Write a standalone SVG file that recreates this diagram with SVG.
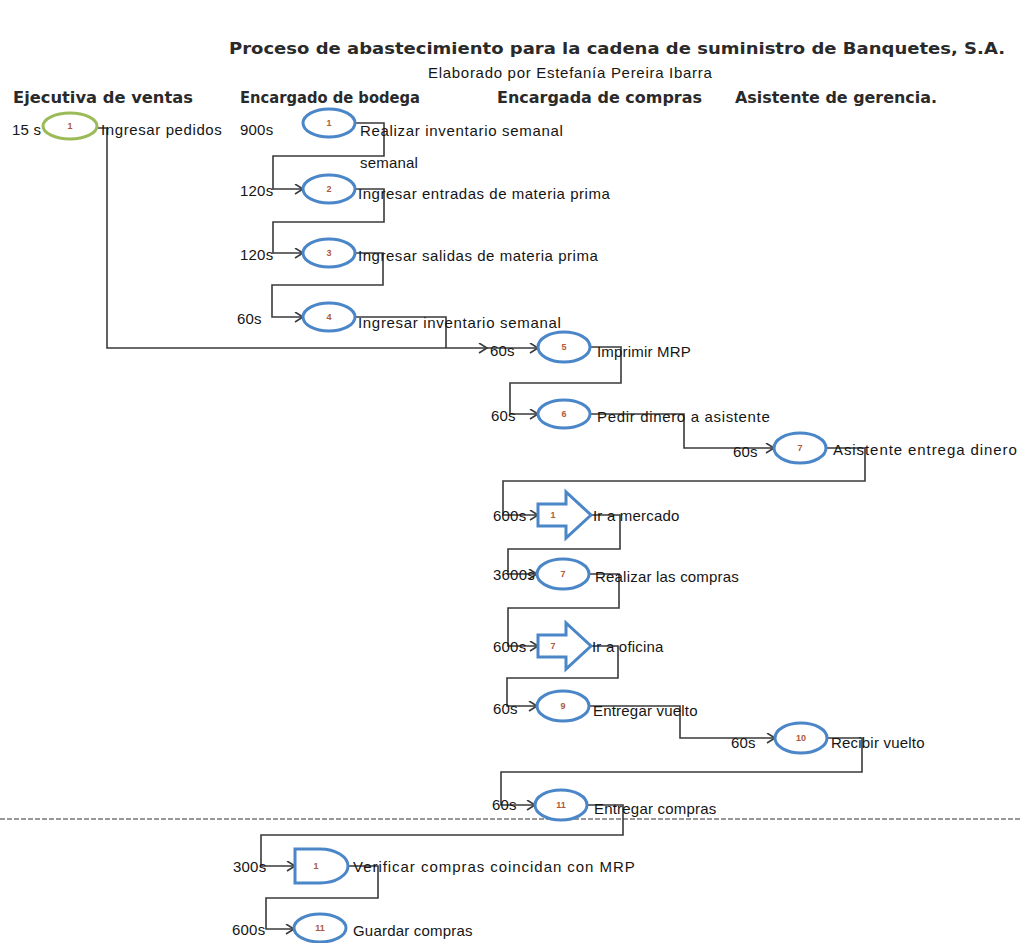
<svg xmlns="http://www.w3.org/2000/svg" width="1022" height="943" viewBox="0 0 1022 943">
<style>
.t{font-family:"Liberation Sans",Arial,sans-serif;font-size:15px;letter-spacing:0.2px;fill:#151515}
.h{font-family:"DejaVu Sans",Verdana,sans-serif;font-weight:bold;font-size:15px;fill:#2a2a2a}
.n{font-family:"Liberation Sans",Arial,sans-serif;font-size:9px;font-weight:bold;fill:#b0583a;text-anchor:middle}
.e{fill:#fff;stroke:#4a86c8;stroke-width:3}
.c{fill:none;stroke:#3a3a3a;stroke-width:1.6}
</style>
<defs>
<marker id="ah" markerWidth="12" markerHeight="12" refX="9" refY="5" orient="auto" markerUnits="userSpaceOnUse"><path d="M1,0 L9,5 L1,10" fill="none" stroke="#3a3a3a" stroke-width="1.6"/></marker>
</defs>
<rect width="1022" height="943" fill="#fff"/>
<g id="titles">
<text class="h" x="229" y="54" textLength="776" lengthAdjust="spacingAndGlyphs">Proceso de abastecimiento para la cadena de suministro de Banquetes, S.A.</text>
<text class="t" x="428" y="78" font-size="14" textLength="284" lengthAdjust="spacing">Elaborado por Estefanía Pereira Ibarra</text>
</g>
<g id="lanes">
<text class="h" x="13" y="103" textLength="180" lengthAdjust="spacingAndGlyphs">Ejecutiva de ventas</text>
<text class="h" x="240" y="103" textLength="180" lengthAdjust="spacingAndGlyphs">Encargado de bodega</text>
<text class="h" x="497" y="103" textLength="205" lengthAdjust="spacingAndGlyphs">Encargada de compras</text>
<text class="h" x="735" y="103" textLength="202" lengthAdjust="spacingAndGlyphs">Asistente de gerencia.</text>
</g>
<g id="divider">
<line x1="0" y1="819" x2="1022" y2="819" stroke="#333" stroke-width="1.2" stroke-dasharray="5,2"/>
</g>
<g id="connectors">
<path class="c" d="M97,128 H107 V348 H487" marker-end="url(#ah)"/>
<path class="c" d="M487,348 H538" marker-end="url(#ah)"/>
<path class="c" d="M355,123 H384 V156 H273 V189 H303" marker-end="url(#ah)"/>
<path class="c" d="M355,189 H384 V222 H273 V253 H303" marker-end="url(#ah)"/>
<path class="c" d="M355,253 H383 V285 H272 V317 H303" marker-end="url(#ah)"/>
<path class="c" d="M355,317 H446 V348"/>
<path class="c" d="M590,347 H621 V383 H510 V414 H538" marker-end="url(#ah)"/>
<path class="c" d="M590,414 H684 V448 H774" marker-end="url(#ah)"/>
<path class="c" d="M826,448 H865 V481 H503 V515 H538" marker-end="url(#ah)"/>
<path class="c" d="M591,515 H620 V549 H508 V574 H537" marker-end="url(#ah)"/>
<path class="c" d="M589,574 H619 V608 H508 V646 H538" marker-end="url(#ah)"/>
<path class="c" d="M591,646 H618 V678 H507 V706 H537" marker-end="url(#ah)"/>
<path class="c" d="M589,706 H680 V738 H775" marker-end="url(#ah)"/>
<path class="c" d="M827,738 H862 V772 H501 V805 H535" marker-end="url(#ah)"/>
<path class="c" d="M587,805 H623 V835 H261 V866 H295" marker-end="url(#ah)"/>
<path class="c" d="M348,866 H378 V898 H266 V929 H294" marker-end="url(#ah)"/>
</g>
<g id="n0">
<ellipse cx="70" cy="126" rx="27" ry="13" fill="#fff" stroke="#9bbb59" stroke-width="3"/>
<text class="n" x="70" y="129">1</text>
<text class="t" x="12" y="135" font-size="14.5" letter-spacing="0">15 s</text>
<text class="t" x="101" y="135" textLength="121" lengthAdjust="spacing">Ingresar pedidos</text>
</g>
<g id="n1">
<ellipse class="e" cx="329" cy="123" rx="26" ry="14"/>
<text class="n" x="329" y="126">1</text>
<text class="t" x="240" y="135">900s</text>
<text class="t" x="360" y="136" textLength="203" lengthAdjust="spacing">Realizar inventario semanal</text>
<text class="t" x="360" y="168">semanal</text>
</g>
<g id="n2">
<ellipse class="e" cx="329" cy="189" rx="26" ry="14"/>
<text class="n" x="329" y="192">2</text>
<text class="t" x="240" y="196">120s</text>
<text class="t" x="358" y="199" textLength="252" lengthAdjust="spacing">Ingresar entradas de materia prima</text>
</g>
<g id="n3">
<ellipse class="e" cx="329" cy="253" rx="26" ry="14"/>
<text class="n" x="329" y="256">3</text>
<text class="t" x="240" y="260">120s</text>
<text class="t" x="358" y="261" textLength="240" lengthAdjust="spacing">Ingresar salidas de materia prima</text>
</g>
<g id="n4">
<ellipse class="e" cx="329" cy="317" rx="26" ry="14"/>
<text class="n" x="329" y="320">4</text>
<text class="t" x="237" y="324">60s</text>
<text class="t" x="358" y="328" textLength="203" lengthAdjust="spacing">Ingresar inventario semanal</text>
</g>
<g id="n5">
<ellipse class="e" cx="564" cy="347" rx="26" ry="15"/>
<text class="n" x="564" y="350">5</text>
<text class="t" x="490" y="356">60s</text>
<text class="t" x="597" y="357">Imprimir MRP</text>
</g>
<g id="n6">
<ellipse class="e" cx="564" cy="414" rx="26" ry="14"/>
<text class="n" x="564" y="417">6</text>
<text class="t" x="491" y="421">60s</text>
<text class="t" x="597" y="422" textLength="173" lengthAdjust="spacing">Pedir dinero a asistente</text>
</g>
<g id="n7">
<ellipse class="e" cx="800" cy="448" rx="26" ry="15"/>
<text class="n" x="800" y="451">7</text>
<text class="t" x="733" y="457">60s</text>
<text class="t" x="833" y="455" textLength="184" lengthAdjust="spacing">Asistente entrega dinero</text>
</g>
<g id="n8">
<path class="e" d="M538,504 H566 V492 L591,515 L566,538 V526 H538 Z"/>
<text class="n" x="553" y="518">1</text>
<text class="t" x="493" y="521">600s</text>
<text class="t" x="593" y="521">Ir a mercado</text>
</g>
<g id="n9">
<ellipse class="e" cx="563" cy="574" rx="26" ry="15"/>
<text class="n" x="563" y="577">7</text>
<text class="t" x="493" y="580">3600s</text>
<text class="t" x="595" y="582">Realizar las compras</text>
</g>
<g id="n10">
<path class="e" d="M538,635 H566 V623 L591,646 L566,669 V657 H538 Z"/>
<text class="n" x="553" y="649">7</text>
<text class="t" x="493" y="652">600s</text>
<text class="t" x="592" y="652">Ir a oficina</text>
</g>
<g id="n11">
<ellipse class="e" cx="563" cy="706" rx="26" ry="15"/>
<text class="n" x="563" y="709">9</text>
<text class="t" x="493" y="714">60s</text>
<text class="t" x="593" y="716">Entregar vuelto</text>
</g>
<g id="n12">
<ellipse class="e" cx="801" cy="738" rx="26" ry="15"/>
<text class="n" x="801" y="741" font-size="7">10</text>
<text class="t" x="731" y="748">60s</text>
<text class="t" x="831" y="748">Recibir vuelto</text>
</g>
<g id="n13">
<ellipse class="e" cx="561" cy="805" rx="26" ry="15"/>
<text class="n" x="561" y="808" font-size="7">11</text>
<text class="t" x="492" y="810">60s</text>
<text class="t" x="594" y="814">Entregar compras</text>
</g>
<g id="n14">
<path class="e" d="M295,849 H320 A28,17 0 0 1 320,883 H295 Z"/>
<text class="n" x="316" y="869">1</text>
<text class="t" x="233" y="872">300s</text>
<text class="t" x="353" y="872" textLength="282" lengthAdjust="spacing">Verificar compras coincidan con MRP</text>
</g>
<g id="n15">
<ellipse class="e" cx="320" cy="928" rx="26" ry="14"/>
<text class="n" x="320" y="931" font-size="7">11</text>
<text class="t" x="232" y="935">600s</text>
<text class="t" x="353" y="936">Guardar compras</text>
</g>
</svg>
